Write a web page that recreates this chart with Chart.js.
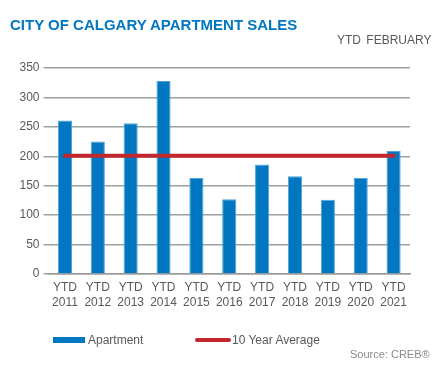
<!DOCTYPE html>
<html>
<head>
<meta charset="utf-8">
<script src="https://cdn.jsdelivr.net/npm/chart.js@4"></script>
<style>
  html, body { margin: 0; padding: 0; background: #fff; }
  #wrap { position: relative; width: 439px; height: 369px; font-family: "Liberation Sans", Arial, sans-serif; }
  canvas { position: absolute; left: 0; top: 0; }
  .txt { position: absolute; white-space: nowrap; }
  #title { left: 10px; top: 16px; font-size: 15px; font-weight: bold; color: #0077C0; }
  #sub { left: 337px; top: 33px; font-size: 12px; color: #595959; word-spacing: 2px; }
  .sw { position: absolute; }
  .lg { font-size: 12px; color: #595959; top: 333px; }
  #src { font-size: 11px; color: #8a8a8a; left: 350px; top: 348px; }
</style>
</head>
<body>
<div id="wrap">
  <canvas id="c" width="439" height="369"></canvas>
  <div id="title" class="txt">CITY OF CALGARY APARTMENT SALES</div>
  <div id="sub" class="txt">YTD  FEBRUARY</div>
  <div class="sw" style="left:53px;top:337px;width:32px;height:6px;background:#0077C0"></div>
  <div class="txt lg" style="left:88px">Apartment</div>
  <div class="sw" style="left:195px;top:338px;width:36px;height:4px;background:#C1272D;border-radius:2px"></div>
  <div class="txt lg" style="left:232px">10 Year Average</div>
  <div id="src" class="txt">Source: CREB®</div>
</div>
<script>
const categories = ["2011","2012","2013","2014","2015","2016","2017","2018","2019","2020","2021"];
const categoryPrefix = "YTD";
const apartmentSales = [261, 225, 256, 328, 163, 127, 186, 166, 126, 163, 209];
const tenYearAverage = [201, 201, 201, 201, 201, 201, 201, 201, 201, 201, 201];
const yTicks = [0, 50, 100, 150, 200, 250, 300, 350];

const labels = categories.map(c => [categoryPrefix, c]);

new Chart(document.getElementById('c'), {
  data: {
    labels: labels,
    datasets: [
      {
        type: 'line',
        label: '10 Year Average',
        data: tenYearAverage,
        borderColor: '#C1272D',
        borderWidth: 4,
        pointRadius: 0,
        borderCapStyle: 'round',
        order: 0
      },
      {
        type: 'bar',
        label: 'Apartment',
        data: apartmentSales,
        backgroundColor: '#0077C0',
        borderColor: '#4FA3DA',
        borderWidth: {left: 1, right: 1, top: 1, bottom: 0},
        barPercentage: 0.43,
        categoryPercentage: 1.0,
        order: 1
      }
    ]
  },
  options: {
    responsive: false,
    animation: false,
    devicePixelRatio: 1,
    layout: { padding: { top: 68, right: 29, bottom: 45, left: 0 } },
    plugins: { legend: { display: false }, title: { display: false }, tooltip: { enabled: false } },
    scales: {
      x: {
        grid: { display: false, drawTicks: false },
        border: { display: true, color: '#9a9a9a', width: 1.5 },
        ticks: {
          color: '#595959',
          font: { family: 'Liberation Sans', size: 12, lineHeight: 1.25 },
          padding: 6,
          maxRotation: 0,
          autoSkip: false
        },
        afterFit: s => { s.height = 50; }
      },
      y: {
        min: 0,
        max: 350,
        afterBuildTicks: s => { s.ticks = yTicks.map(v => ({ value: v })); },
        grid: { color: '#9aa39f', lineWidth: 1.5, drawTicks: true, tickLength: 5 },
        border: { display: false },
        ticks: {
          color: '#595959',
          font: { family: 'Liberation Sans', size: 12 },
          padding: 4
        },
        afterFit: s => { s.width = 48.5; }
      }
    }
  }
});
</script>
</body>
</html>
